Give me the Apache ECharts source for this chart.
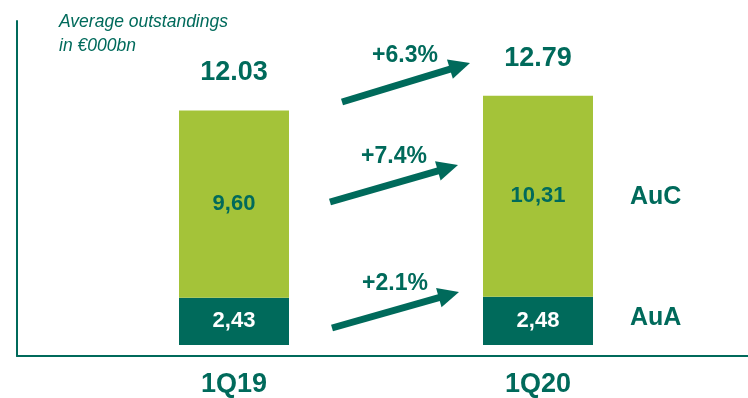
<!DOCTYPE html>
<html>
<head>
<meta charset="utf-8">
<script src="https://cdn.jsdelivr.net/npm/echarts@6/dist/echarts.min.js"></script>
<style>
  html, body { margin: 0; padding: 0; background: #ffffff; }
  #chart { width: 748px; height: 398px; }
</style>
</head>
<body>
<div id="chart"></div>
<script>
// Quarterly average outstandings, split into assets under administration / custody
const categories = ['1Q19', '1Q20'];
const auaValues = [2.43, 2.48];
const aucValues = [9.60, 10.31];
const growthLabels = ['+6.3%', '+7.4%', '+2.1%'];   // total, AuC, AuA
const seriesNames = ['AuA', 'AuC'];
const unitNote = 'Average outstandings\nin €000bn';

const TEAL = '#006a5b';
const LIME = '#a4c339';
const SANS = "'Liberation Sans', Arial, sans-serif";

const totals = categories.map((_, i) => +(auaValues[i] + aucValues[i]).toFixed(2));
const commaFmt = v => v.toFixed(2).replace('.', ',');

// growth arrows: tail (x1,y1) -> tip (x2,y2), and label centre
const arrowLayout = [
  { tail: [342, 102], tip: [470, 63], label: [405, 56] },
  { tail: [330, 202], tip: [458, 165], label: [394, 157] },
  { tail: [332, 328], tip: [459, 292], label: [395, 284] }
];

function arrowGraphics(a, text) {
  const [x1, y1] = a.tail, [x2, y2] = a.tip;
  const dx = x2 - x1, dy = y2 - y1, len = Math.hypot(dx, dy);
  const ux = dx / len, uy = dy / len, nx = -uy, ny = ux;
  const headLen = 21, halfW = 10;
  const bx = x2 - ux * headLen, by = y2 - uy * headLen;
  return [
    { type: 'line', silent: true,
      shape: { x1: x1, y1: y1, x2: bx + ux * 2, y2: by + uy * 2 },
      style: { stroke: TEAL, lineWidth: 7 } },
    { type: 'polygon', silent: true,
      shape: { points: [[x2, y2], [bx + nx * halfW, by + ny * halfW], [bx - nx * halfW, by - ny * halfW]] },
      style: { fill: TEAL } },
    { type: 'text', silent: true,
      style: { text: text, x: a.label[0], y: a.label[1], textAlign: 'center', textVerticalAlign: 'middle',
               font: 'bold 23px ' + SANS, fill: TEAL } }
  ];
}

const graphics = [];
arrowLayout.forEach((a, i) => graphics.push(...arrowGraphics(a, growthLabels[i])));
// series names beside the latest bar
graphics.push(
  { type: 'text', silent: true,
    style: { text: seriesNames[1], x: 630, y: 197, textVerticalAlign: 'middle', font: 'bold 25px ' + SANS, fill: TEAL } },
  { type: 'text', silent: true,
    style: { text: seriesNames[0], x: 630, y: 318, textVerticalAlign: 'middle', font: 'bold 25px ' + SANS, fill: TEAL } }
);

const chart = echarts.init(document.getElementById('chart'), null, { renderer: 'canvas' });

const yRange = { min: -0.56, max: 16.62 };

chart.setOption({
  animation: false,
  backgroundColor: '#ffffff',
  title: {
    text: unitNote,
    left: 59, top: 10, padding: 0,
    textStyle: { fontFamily: SANS, fontStyle: 'italic', fontWeight: 'normal', fontSize: 17.5, lineHeight: 24, color: TEAL }
  },
  grid: [
    { left: 82, right: 58, top: 21, bottom: 42 },   // bars
    { left: 17, right: 0, top: 21, bottom: 42 }     // frame lines
  ],
  xAxis: [
    {
      type: 'category', gridIndex: 0, data: categories,
      axisLine: { show: false, onZero: false }, axisTick: { show: false },
      axisLabel: { margin: 15, fontFamily: SANS, fontWeight: 'bold', fontSize: 27, color: TEAL }
    },
    {
      type: 'value', gridIndex: 1, min: 0, max: 1,
      axisLine: { show: true, onZero: false, lineStyle: { color: TEAL, width: 2 } },
      axisTick: { show: false }, axisLabel: { show: false }, splitLine: { show: false }
    }
  ],
  yAxis: [
    {
      type: 'value', gridIndex: 0, min: yRange.min, max: yRange.max,
      axisLine: { show: false }, axisTick: { show: false }, axisLabel: { show: false }, splitLine: { show: false }
    },
    {
      type: 'value', gridIndex: 1, min: yRange.min, max: yRange.max,
      axisLine: { show: true, onZero: false, lineStyle: { color: TEAL, width: 2 } },
      axisTick: { show: false }, axisLabel: { show: false }, splitLine: { show: false }
    }
  ],
  series: [
    {
      name: seriesNames[0], type: 'bar', stack: 'out', xAxisIndex: 0, yAxisIndex: 0,
      barWidth: 110, data: auaValues,
      itemStyle: { color: TEAL },
      label: { show: true, position: 'inside', formatter: p => commaFmt(p.value),
               fontFamily: SANS, fontWeight: 'bold', fontSize: 22, color: '#ffffff' }
    },
    {
      name: seriesNames[1], type: 'bar', stack: 'out', xAxisIndex: 0, yAxisIndex: 0,
      barWidth: 110, data: aucValues,
      itemStyle: { color: LIME },
      label: { show: true, position: 'inside', formatter: p => commaFmt(p.value),
               fontFamily: SANS, fontWeight: 'bold', fontSize: 22, color: TEAL }
    },
    {
      name: 'Total', type: 'bar', stack: 'out', xAxisIndex: 0, yAxisIndex: 0,
      barWidth: 110, data: categories.map(() => 0),
      itemStyle: { color: 'rgba(0,0,0,0)' },
      label: { show: true, position: 'top', distance: 24,
               formatter: p => totals[p.dataIndex].toFixed(2),
               fontFamily: SANS, fontWeight: 'bold', fontSize: 27, color: TEAL }
    }
  ],
  graphic: graphics
});
</script>
</body>
</html>
